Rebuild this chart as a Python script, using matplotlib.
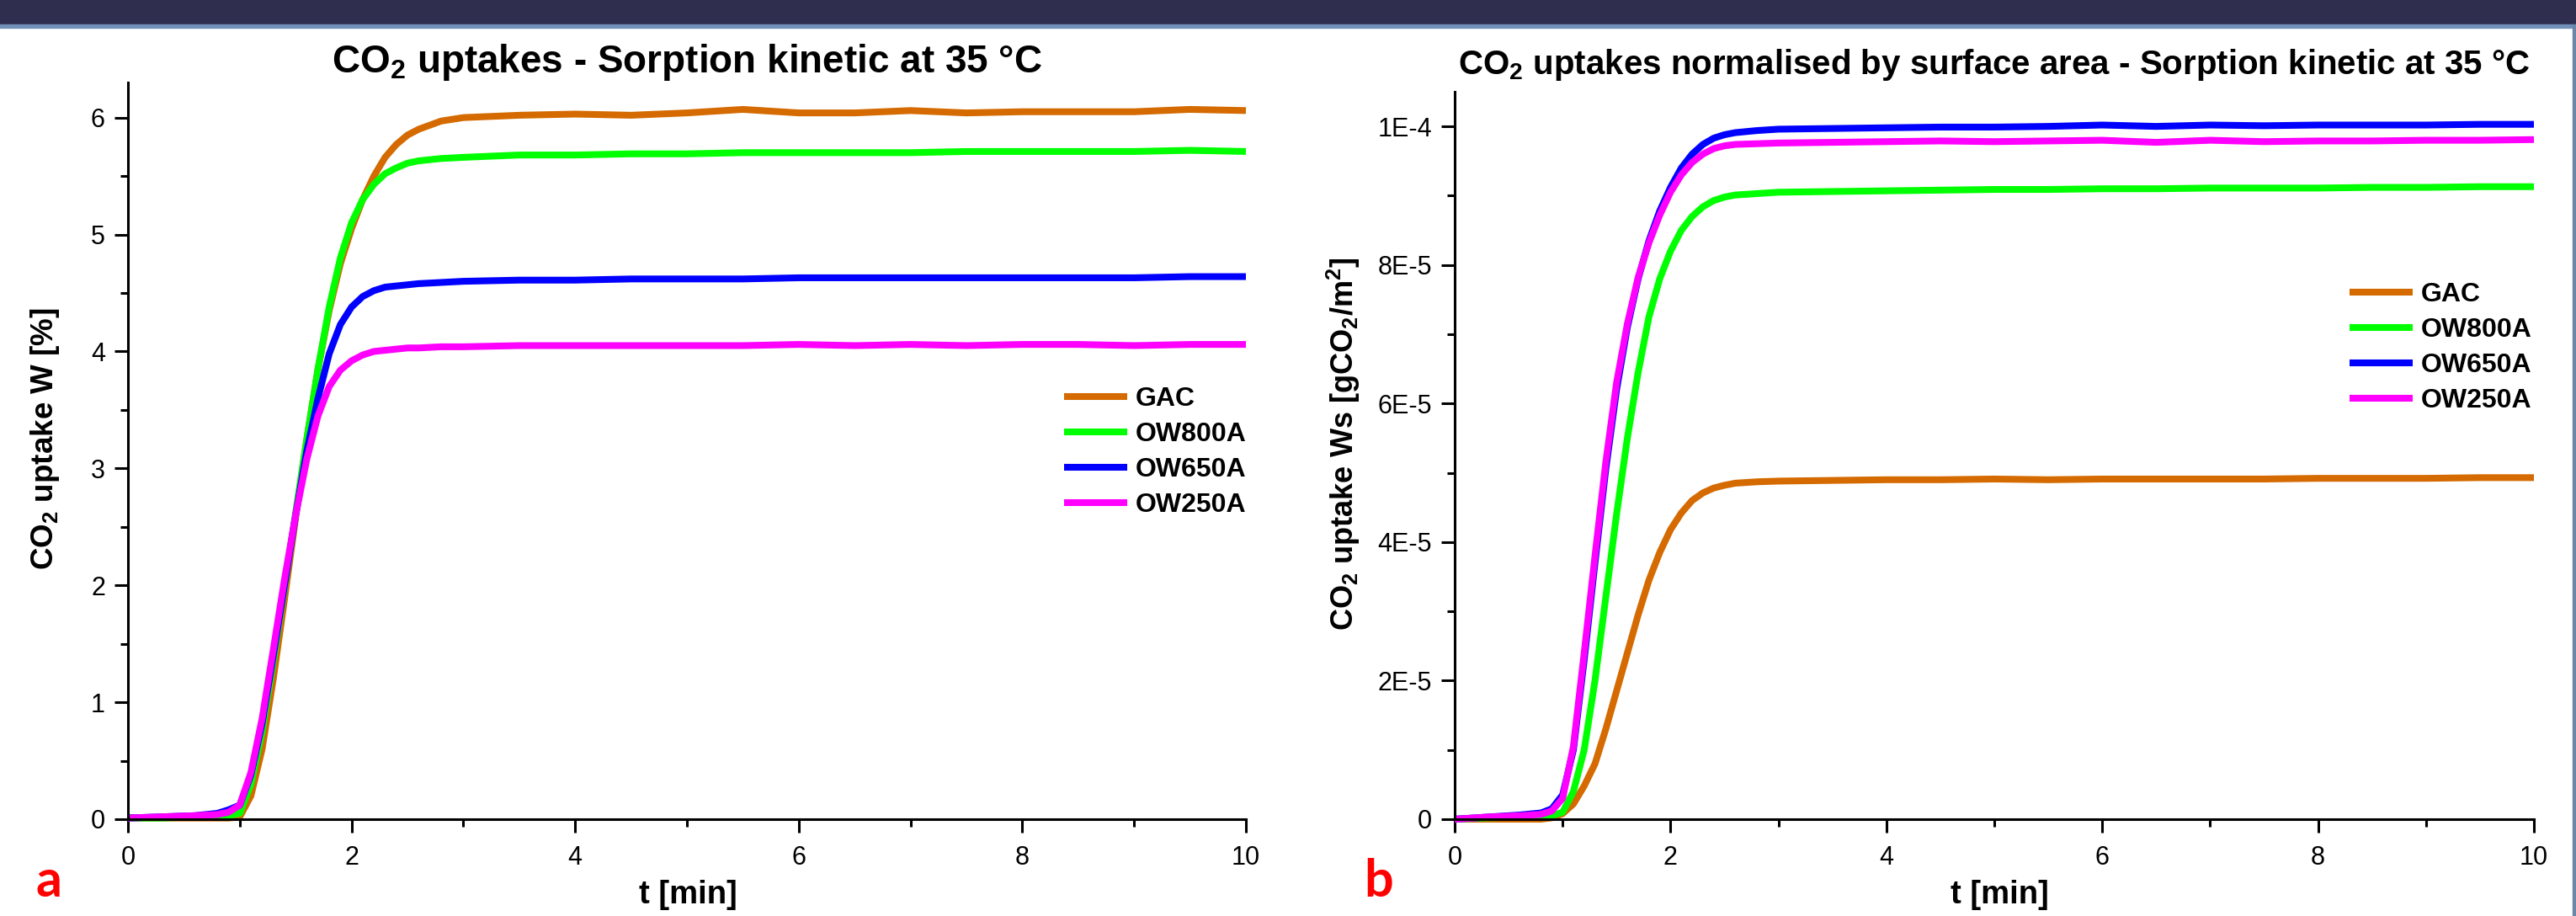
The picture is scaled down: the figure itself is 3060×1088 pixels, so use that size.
import numpy as np
import matplotlib
matplotlib.use('Agg')
import matplotlib.pyplot as plt
from matplotlib.patches import Rectangle
from matplotlib.ticker import MultipleLocator, FuncFormatter

# time axis [min]
t = [0, 0.3, 0.6, 0.8, 0.9, 1.0, 1.1, 1.2, 1.3, 1.4, 1.5, 1.6, 1.7, 1.8, 1.9,
     2.0, 2.1, 2.2, 2.3, 2.4, 2.5, 2.6, 2.8, 3.0, 3.5, 4.0, 4.5, 5.0, 5.5, 6.0,
     6.5, 7.0, 7.5, 8.0, 8.5, 9.0, 9.5, 10.0]

labels = ['GAC', 'OW800A', 'OW650A', 'OW250A']
colors = ['#d46a00', '#00ff00', '#0000ff', '#ff00ff']

# panel a: uptake W [%]
w_gac = [0.01, 0.01, 0.01, 0.01, 0.01, 0.02, 0.2, 0.6, 1.2, 1.88, 2.58, 3.25, 3.85, 4.35, 4.75,
         5.05, 5.3, 5.5, 5.66, 5.77, 5.85, 5.9, 5.97, 6.0, 6.02, 6.03, 6.02, 6.04, 6.07, 6.04,
         6.04, 6.06, 6.04, 6.05, 6.05, 6.05, 6.07, 6.06]
w_800 = [0.01, 0.01, 0.02, 0.02, 0.03, 0.05, 0.3, 0.75, 1.35, 1.98, 2.62, 3.25, 3.85, 4.38, 4.8,
         5.1, 5.3, 5.43, 5.52, 5.57, 5.61, 5.63, 5.65, 5.66, 5.68, 5.68, 5.69, 5.69, 5.7, 5.7,
         5.7, 5.7, 5.71, 5.71, 5.71, 5.71, 5.72, 5.71]
w_650 = [0.01, 0.02, 0.03, 0.05, 0.08, 0.12, 0.38, 0.82, 1.4, 2.0, 2.6, 3.15, 3.6, 3.98, 4.23,
         4.38, 4.47, 4.52, 4.55, 4.56, 4.57, 4.58, 4.59, 4.6, 4.61, 4.61, 4.62, 4.62, 4.62, 4.63,
         4.63, 4.63, 4.63, 4.63, 4.63, 4.63, 4.64, 4.64]
w_250 = [0.01, 0.02, 0.03, 0.04, 0.06, 0.12, 0.4, 0.86, 1.45, 2.05, 2.6, 3.08, 3.45, 3.7, 3.84,
         3.92, 3.97, 4.0, 4.01, 4.02, 4.03, 4.03, 4.04, 4.04, 4.05, 4.05, 4.05, 4.05, 4.05, 4.06,
         4.05, 4.06, 4.05, 4.06, 4.06, 4.05, 4.06, 4.06]

# panel b: uptake normalised by surface area Ws [gCO2/m2], in units of 1E-5
ws_gac = [0.0, 0.0, 0.0, 0.0, 0.02, 0.08, 0.22, 0.48, 0.8, 1.3, 1.85, 2.4, 2.95, 3.45, 3.85,
          4.18, 4.42, 4.6, 4.71, 4.78, 4.82, 4.85, 4.87, 4.88, 4.89, 4.9, 4.9, 4.91, 4.9, 4.91,
          4.91, 4.91, 4.91, 4.92, 4.92, 4.92, 4.93, 4.93]
ws_800 = [0.0, 0.02, 0.03, 0.04, 0.05, 0.1, 0.4, 1.0, 2.0, 3.2, 4.4, 5.5, 6.45, 7.25, 7.8,
          8.2, 8.5, 8.7, 8.84, 8.93, 8.98, 9.01, 9.03, 9.05, 9.06, 9.07, 9.08, 9.09, 9.09, 9.1,
          9.1, 9.11, 9.11, 9.11, 9.12, 9.12, 9.13, 9.13]
ws_650 = [0.0, 0.03, 0.06, 0.09, 0.15, 0.35, 1.0, 2.3, 3.7, 5.05, 6.2, 7.1, 7.8, 8.35, 8.78,
          9.12, 9.4, 9.6, 9.74, 9.83, 9.88, 9.91, 9.94, 9.96, 9.97, 9.98, 9.99, 9.99, 10.0, 10.02,
          10.0, 10.02, 10.01, 10.02, 10.02, 10.02, 10.03, 10.03]
ws_250 = [0.0, 0.03, 0.05, 0.07, 0.12, 0.3, 1.05, 2.4, 3.8, 5.15, 6.3, 7.15, 7.82, 8.32, 8.72,
          9.05, 9.3, 9.48, 9.6, 9.68, 9.72, 9.74, 9.75, 9.76, 9.77, 9.78, 9.79, 9.78, 9.79, 9.8,
          9.77, 9.8, 9.78, 9.79, 9.79, 9.8, 9.8, 9.81]

W, H = 3060, 1088

plt.rcParams['font.family'] = ['Liberation Sans', 'DejaVu Sans']
plt.rcParams['mathtext.default'] = 'regular'

fig = plt.figure(figsize=(W / 100, H / 100), dpi=100)

# slide banner and border
fig.patches.append(Rectangle((0, 1 - 29 / H), 1, 29 / H, transform=fig.transFigure,
                             color='#2f2e4f', zorder=0))
fig.patches.append(Rectangle((0, 1 - 33 / H), 1, 4 / H, transform=fig.transFigure,
                             color='#7090b8', zorder=0))
fig.patches.append(Rectangle((1 - 4 / W, 0), 4 / W, 1 - 29 / H, transform=fig.transFigure,
                             color='#6a86a8', zorder=0))

ax1 = fig.add_axes([152 / W, 115 / H, 1328 / W, 875 / H])
ax2 = fig.add_axes([1728 / W, 115 / H, 1282 / W, 864 / H])


def style(ax):
    for s in ['top', 'right']:
        ax.spines[s].set_visible(False)
    for s in ['left', 'bottom']:
        ax.spines[s].set_linewidth(2.2)
    ax.tick_params(which='major', direction='out', length=11.5, width=2.2, labelsize=22)
    ax.tick_params(which='minor', direction='out', length=6.5, width=2.2)
    ax.tick_params(axis='x', pad=11)
    ax.tick_params(axis='y', pad=8)
    ax.set_xlim(0, 10)
    ax.xaxis.set_major_locator(MultipleLocator(2))
    ax.xaxis.set_minor_locator(MultipleLocator(1))


series_a = [w_gac, w_800, w_650, w_250]
for y, c, l in zip(series_a, colors, labels):
    ax1.plot(t, y, color=c, lw=5.8, label=l, clip_on=False, solid_capstyle='butt')
style(ax1)
ax1.set_ylim(0, 6.3)
ax1.yaxis.set_major_locator(MultipleLocator(1))
ax1.yaxis.set_minor_locator(MultipleLocator(0.5))
ax1.set_title('CO$_2$ uptakes - Sorption kinetic at 35 °C', fontsize=33,
              fontweight='bold', pad=1)

series_b = [ws_gac, ws_800, ws_650, ws_250]
for y, c, l in zip(series_b, colors, labels):
    ax2.plot(t, np.array(y) * 1e-5, color=c, lw=5.8, label=l, clip_on=False,
             solid_capstyle='butt')
style(ax2)
ax2.set_ylim(0, 1.05e-4)
ax2.yaxis.set_major_locator(MultipleLocator(2e-5))
ax2.yaxis.set_minor_locator(MultipleLocator(1e-5))


def sci(v, pos):
    if v < 1e-12:
        return '0' if abs(v) < 1e-12 else ''
    e = int(np.floor(np.log10(v) + 1e-9))
    return '%dE%d' % (round(v / 10 ** e), e)


ax2.yaxis.set_major_formatter(FuncFormatter(sci))
ax2.set_title('CO$_2$ uptakes normalised by surface area - Sorption kinetic at 35 °C',
              fontsize=29, fontweight='bold', pad=15)

# axis labels
fig.text(54 / W, 1 - 521 / H, 'CO$_2$ uptake W [%]', rotation=90, ha='center', va='center',
         fontsize=26.5, fontweight='bold')
fig.text(1596 / W, 1 - 527 / H, 'CO$_2$ uptake Ws [gCO$_2$/m$^2$]', rotation=90,
         ha='center', va='center', fontsize=26, fontweight='bold')
fig.text(817 / W, 1 - 1063 / H, 't [min]', ha='center', va='center', fontsize=27.5,
         fontweight='bold')
fig.text(2375 / W, 1 - 1063 / H, 't [min]', ha='center', va='center', fontsize=27.5,
         fontweight='bold')

# panel letters
fig.text(43 / W, 1 - 1065 / H, 'a', color='#ff0000', fontsize=44, fontweight='bold',
         family=['Lato', 'DejaVu Sans'], va='baseline')
fig.text(1620 / W, 1 - 1065 / H, 'b', color='#ff0000', fontsize=44, fontweight='bold',
         family=['Lato', 'DejaVu Sans'], va='baseline')

leg_kw = dict(loc='upper left', frameon=False, borderpad=0, borderaxespad=0,
              handlelength=2.35, handletextpad=0.31, labelspacing=0.38,
              prop={'weight': 'bold', 'size': 23}, bbox_transform=fig.transFigure)
ax1.legend(bbox_to_anchor=(1264 / W, 1 - 459 / H), **leg_kw)
ax2.legend(bbox_to_anchor=(2791 / W, 1 - 335 / H), **leg_kw)

fig.savefig('out.png', dpi=100)
